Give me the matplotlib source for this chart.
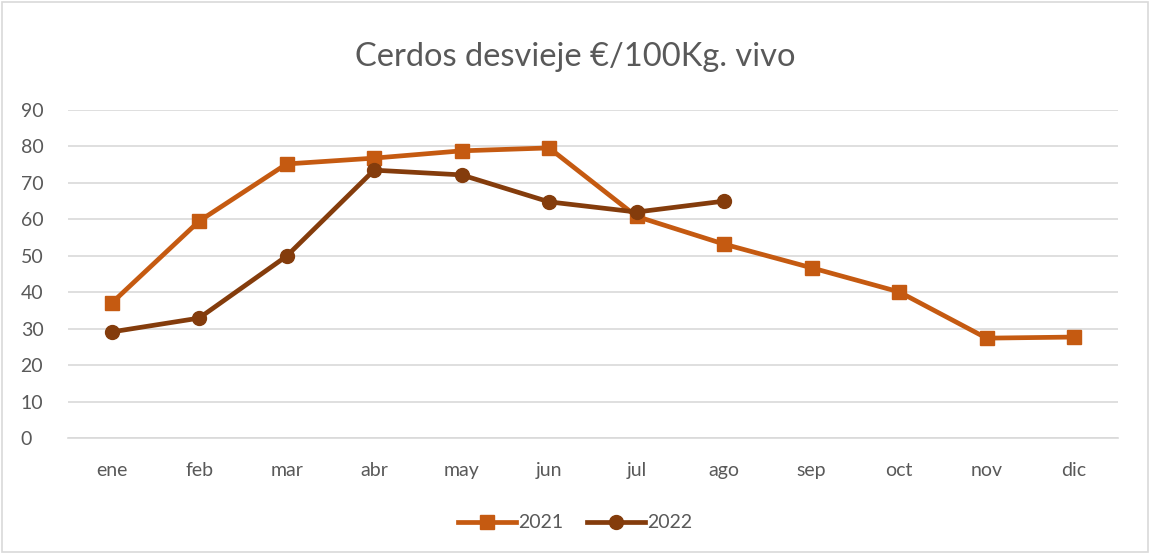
import matplotlib.pyplot as plt
from matplotlib.patches import Rectangle

# Data
months = ['ene', 'feb', 'mar', 'abr', 'may', 'jun', 'jul', 'ago', 'sep', 'oct', 'nov', 'dic']
values_2021 = [37.0, 59.5, 75.2, 76.8, 78.8, 79.6, 60.8, 53.2, 46.7, 40.1, 27.4, 27.7]
values_2022 = [29.1, 32.9, 49.9, 73.5, 72.2, 64.8, 62.0, 65.0]
y_ticks = [0, 10, 20, 30, 40, 50, 60, 70, 80, 90]

plt.rcParams['font.family'] = ['Lato', 'DejaVu Sans']
text_color = '#595959'

fig = plt.figure(figsize=(11.5, 5.54), dpi=100)
ax = fig.add_axes([0.059, 0.2094, 0.913, 0.592])

x21 = list(range(len(values_2021)))
x22 = list(range(len(values_2022)))
ax.plot(x21, values_2021, color='#C55A11', linewidth=3.4, marker='s', markersize=10, label='2021', zorder=3)
ax.plot(x22, values_2022, color='#843C0C', linewidth=3.4, marker='o', markersize=10, label='2022', zorder=4)

ax.set_xlim(-0.5, len(months) - 0.5)
ax.set_ylim(0, 90)
ax.set_xticks(x21)
ax.set_xticklabels(months)
ax.set_yticks(y_ticks)
ax.tick_params(axis='both', length=0, labelsize=14, colors=text_color)
ax.tick_params(axis='x', pad=17)
ax.tick_params(axis='y', pad=34)
for lbl in ax.get_yticklabels():
    lbl.set_horizontalalignment('left')
ax.grid(axis='y', color='#D9D9D9', linewidth=1.2)
ax.set_axisbelow(True)
for side in ['top', 'right', 'left']:
    ax.spines[side].set_visible(False)
ax.spines['bottom'].set_color('#D9D9D9')
ax.spines['bottom'].set_linewidth(1.2)

fig.text(0.5, 0.897, 'Cerdos desvieje €/100Kg. vivo', ha='center', va='center',
         fontsize=23.5, color=text_color)

leg = fig.legend(loc='center', bbox_to_anchor=(0.5, 0.056), ncol=2, frameon=False,
                 fontsize=14, handlelength=3.0, columnspacing=1.2, handletextpad=0.1)
for t in leg.get_texts():
    t.set_color(text_color)

fig.patches.append(Rectangle((0.002, 0.003), 0.996, 0.994, transform=fig.transFigure,
                             fill=False, edgecolor='#D9D9D9', linewidth=1.2))

fig.savefig('out.png', dpi=100)
